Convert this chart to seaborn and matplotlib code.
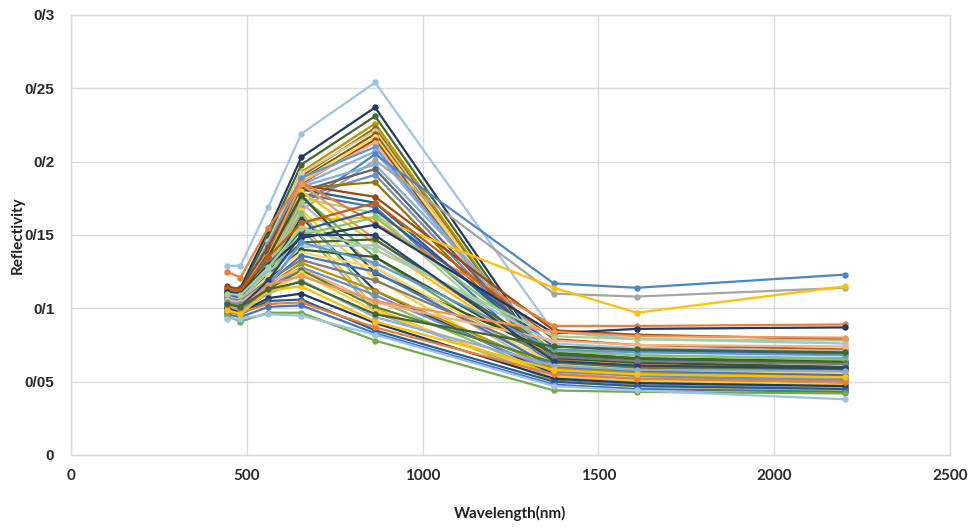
import matplotlib
matplotlib.use("Agg")
import matplotlib.pyplot as plt
from matplotlib.ticker import FuncFormatter, MultipleLocator
import seaborn as sns
import pandas as pd

# ---------------- data ----------------
wavelengths = [443, 482, 561, 655, 865, 1373, 1609, 2201]

v01 = [0.129, 0.129, 0.169, 0.219, 0.254, 0.084, 0.079, 0.076]
v02 = [0.113, 0.114, 0.153, 0.203, 0.237, 0.060, 0.056, 0.053]
v03 = [0.111, 0.112, 0.149, 0.198, 0.231, 0.057, 0.054, 0.051]
v04 = [0.108, 0.108, 0.145, 0.193, 0.226, 0.055, 0.052, 0.049]
v05 = [0.106, 0.107, 0.142, 0.190, 0.223, 0.054, 0.051, 0.048]
v06 = [0.110, 0.110, 0.146, 0.192, 0.221, 0.053, 0.050, 0.046]
v07 = [0.104, 0.104, 0.140, 0.188, 0.219, 0.052, 0.049, 0.045]
v08 = [0.107, 0.106, 0.143, 0.187, 0.217, 0.056, 0.053, 0.050]
v09 = [0.102, 0.102, 0.138, 0.185, 0.215, 0.051, 0.048, 0.044]
v10 = [0.105, 0.105, 0.139, 0.186, 0.213, 0.050, 0.047, 0.043]
v11 = [0.112, 0.111, 0.144, 0.189, 0.210, 0.058, 0.055, 0.052]
v12 = [0.109, 0.109, 0.141, 0.184, 0.207, 0.061, 0.058, 0.056]
v13 = [0.112, 0.110, 0.135, 0.170, 0.205, 0.117, 0.114, 0.123]
v14 = [0.108, 0.107, 0.132, 0.167, 0.201, 0.110, 0.108, 0.114]
v15 = [0.114, 0.113, 0.140, 0.183, 0.198, 0.072, 0.068, 0.066]
v16 = [0.106, 0.105, 0.137, 0.180, 0.195, 0.065, 0.062, 0.060]
v17 = [0.103, 0.103, 0.133, 0.176, 0.191, 0.063, 0.060, 0.057]
v18 = [0.110, 0.108, 0.138, 0.182, 0.186, 0.062, 0.059, 0.055]
v19 = [0.115, 0.113, 0.142, 0.184, 0.176, 0.085, 0.082, 0.079]
v20 = [0.108, 0.107, 0.137, 0.181, 0.172, 0.068, 0.065, 0.063]
v21 = [0.104, 0.103, 0.133, 0.178, 0.169, 0.060, 0.057, 0.054]
v22 = [0.105, 0.103, 0.127, 0.160, 0.162, 0.114, 0.097, 0.115]
v23 = [0.101, 0.100, 0.130, 0.175, 0.165, 0.058, 0.055, 0.051]
v24 = [0.125, 0.121, 0.155, 0.186, 0.158, 0.088, 0.088, 0.089]

d01 = [0.107, 0.106, 0.136, 0.185, 0.147, 0.066, 0.062, 0.058]
d02 = [0.104, 0.103, 0.131, 0.180, 0.144, 0.064, 0.061, 0.057]
d03 = [0.099, 0.099, 0.128, 0.176, 0.135, 0.058, 0.054, 0.050]
d04 = [0.102, 0.101, 0.130, 0.172, 0.128, 0.056, 0.052, 0.049]
d05 = [0.110, 0.109, 0.135, 0.177, 0.124, 0.070, 0.066, 0.064]
d06 = [0.097, 0.097, 0.125, 0.167, 0.120, 0.052, 0.049, 0.046]
d07 = [0.100, 0.099, 0.124, 0.162, 0.112, 0.055, 0.051, 0.048]
d08 = [0.103, 0.102, 0.127, 0.165, 0.106, 0.054, 0.050, 0.047]
d09 = [0.098, 0.098, 0.121, 0.158, 0.100, 0.050, 0.047, 0.044]
d10 = [0.101, 0.100, 0.120, 0.155, 0.097, 0.053, 0.049, 0.045]

m01 = [0.113, 0.112, 0.135, 0.158, 0.172, 0.079, 0.075, 0.072]
m02 = [0.109, 0.108, 0.130, 0.153, 0.167, 0.074, 0.071, 0.069]
m03 = [0.106, 0.105, 0.127, 0.150, 0.162, 0.071, 0.068, 0.065]
m04 = [0.111, 0.110, 0.129, 0.148, 0.157, 0.083, 0.086, 0.087]
m05 = [0.104, 0.103, 0.123, 0.145, 0.147, 0.069, 0.066, 0.063]
m06 = [0.108, 0.106, 0.125, 0.142, 0.143, 0.076, 0.073, 0.071]
m07 = [0.102, 0.101, 0.120, 0.140, 0.135, 0.066, 0.063, 0.060]
m08 = [0.105, 0.104, 0.122, 0.138, 0.128, 0.062, 0.058, 0.056]
m09 = [0.100, 0.099, 0.117, 0.136, 0.125, 0.060, 0.057, 0.054]
m10 = [0.107, 0.105, 0.119, 0.133, 0.119, 0.067, 0.064, 0.062]
m11 = [0.103, 0.102, 0.116, 0.131, 0.112, 0.059, 0.056, 0.053]
m12 = [0.099, 0.098, 0.114, 0.128, 0.109, 0.057, 0.054, 0.051]
m13 = [0.106, 0.104, 0.118, 0.127, 0.104, 0.078, 0.075, 0.074]
m14 = [0.101, 0.100, 0.113, 0.126, 0.101, 0.063, 0.060, 0.058]
m15 = [0.097, 0.096, 0.111, 0.124, 0.098, 0.054, 0.051, 0.048]
m16 = [0.104, 0.103, 0.115, 0.145, 0.131, 0.072, 0.070, 0.068]
m17 = [0.110, 0.109, 0.128, 0.155, 0.140, 0.081, 0.079, 0.078]
m18 = [0.102, 0.101, 0.119, 0.150, 0.150, 0.064, 0.061, 0.059]

l01 = [0.101, 0.098, 0.110, 0.119, 0.094, 0.061, 0.058, 0.057]
l02 = [0.100, 0.097, 0.107, 0.110, 0.090, 0.052, 0.049, 0.047]
l03 = [0.098, 0.096, 0.105, 0.106, 0.085, 0.050, 0.047, 0.045]
l04 = [0.097, 0.097, 0.103, 0.104, 0.087, 0.055, 0.052, 0.050]
l05 = [0.096, 0.094, 0.101, 0.102, 0.083, 0.048, 0.045, 0.043]
l06 = [0.095, 0.091, 0.097, 0.097, 0.078, 0.044, 0.043, 0.042]
l07 = [0.093, 0.093, 0.096, 0.095, 0.082, 0.047, 0.044, 0.038]
l08 = [0.099, 0.096, 0.112, 0.115, 0.091, 0.058, 0.055, 0.053]
l09 = [0.102, 0.100, 0.116, 0.122, 0.105, 0.084, 0.081, 0.080]
l10 = [0.103, 0.101, 0.113, 0.118, 0.096, 0.074, 0.072, 0.070]

series = {
    "v01": v01, "v02": v02, "v03": v03, "v04": v04, "v05": v05, "v06": v06,
    "v07": v07, "v08": v08, "v09": v09, "v10": v10, "v11": v11, "v12": v12,
    "v13": v13, "v14": v14, "v15": v15, "v16": v16, "v17": v17, "v18": v18,
    "v19": v19, "v20": v20, "v21": v21, "v22": v22, "v23": v23, "v24": v24,
    "d01": d01, "d02": d02, "d03": d03, "d04": d04, "d05": d05,
    "d06": d06, "d07": d07, "d08": d08, "d09": d09, "d10": d10,
    "m01": m01, "m02": m02, "m03": m03, "m04": m04, "m05": m05, "m06": m06,
    "m07": m07, "m08": m08, "m09": m09, "m10": m10, "m11": m11, "m12": m12,
    "m13": m13, "m14": m14, "m15": m15, "m16": m16, "m17": m17, "m18": m18,
    "l01": l01, "l02": l02, "l03": l03, "l04": l04, "l05": l05,
    "l06": l06, "l07": l07, "l08": l08, "l09": l09, "l10": l10,
}

# ---------------- styles ----------------
colors = [
    "#9DC3E6", "#203864", "#43682B", "#BF9000", "#997300", "#D9C9A8",
    "#7F6000", "#FFD966", "#9E480E", "#F4B183", "#5B9BD5", "#8FAADC",
    "#4A86C8", "#A5A5A5", "#7CAFDD", "#636363", "#698ED0", "#997300",
    "#9E480E", "#255E91", "#4472C4", "#FFC000", "#A9D18E", "#ED7D31",
    "#F1975A", "#FFC000", "#70AD47", "#B7B7B7", "#385723",
    "#FFCD33", "#264478", "#8CC168", "#FFC000", "#7CAFDD",
    "#C55A11", "#335AA1", "#8CC168", "#1F3864", "#43682B", "#9DC3E6",
    "#385723", "#FFD966", "#4472C4", "#7C7C7C", "#BF9000", "#698ED0",
    "#F4B183", "#548235", "#FFCD33", "#5B9BD5", "#A9D18E", "#264478",
    "#8FAADC", "#203864", "#255E91", "#ED7D31", "#4472C4",
    "#70AD47", "#9DC3E6", "#FFC000", "#F1975A", "#43682B",
]

rows = []
for name, vals in series.items():
    for wl, r in zip(wavelengths, vals):
        rows.append({"series": name, "wavelength": wl, "reflectance": r})
df = pd.DataFrame(rows)
palette = dict(zip(series.keys(), colors))

sns.set_style("white")
fig = plt.figure(figsize=(9.68, 5.28), dpi=100)
ax = fig.add_axes([71 / 968, 1 - 455 / 528, (950 - 71) / 968, 440 / 528])

sns.lineplot(data=df, x="wavelength", y="reflectance", hue="series",
             palette=palette, marker="o", markersize=4.6, markeredgewidth=0,
             linewidth=1.6, legend=False, ax=ax, sort=False, estimator=None)

ax.set_xlim(0, 2500)
ax.set_ylim(0, 0.3)
ax.xaxis.set_major_locator(MultipleLocator(500))
ax.yaxis.set_major_locator(MultipleLocator(0.05))
ax.yaxis.set_major_formatter(FuncFormatter(lambda v, p: ("%g" % round(v, 4)).replace(".", "/")))
ax.grid(True, color="#d9d9d9", linewidth=1)
ax.set_axisbelow(True)
for s in ax.spines.values():
    s.set_color("#d9d9d9")
    s.set_linewidth(1)
ax.tick_params(axis="both", length=0)
ax.tick_params(axis="x", pad=10)
ax.tick_params(axis="y", pad=12)
for t in ax.get_yticklabels():
    t.set_fontfamily("Liberation Sans")
    t.set_fontweight("bold")
    t.set_fontsize(11)
    t.set_color("#2b2b2b")
for t in ax.get_xticklabels():
    t.set_fontfamily("Lato")
    t.set_fontweight("bold")
    t.set_fontsize(11)
    t.set_color("#2b2b2b")

ax.set_xlabel("Wavelength(nm)", fontfamily="Lato", fontweight="bold",
              fontsize=11, color="#222222")
ax.set_ylabel("Reflectivity", fontfamily="Lato", fontweight="bold",
              fontsize=11, color="#222222")
ax.xaxis.set_label_coords(0.5, (455 - 506) / 440)
ax.yaxis.set_label_coords((25 - 71) / 879, 0.5)

fig.savefig("out.png", dpi=100)
